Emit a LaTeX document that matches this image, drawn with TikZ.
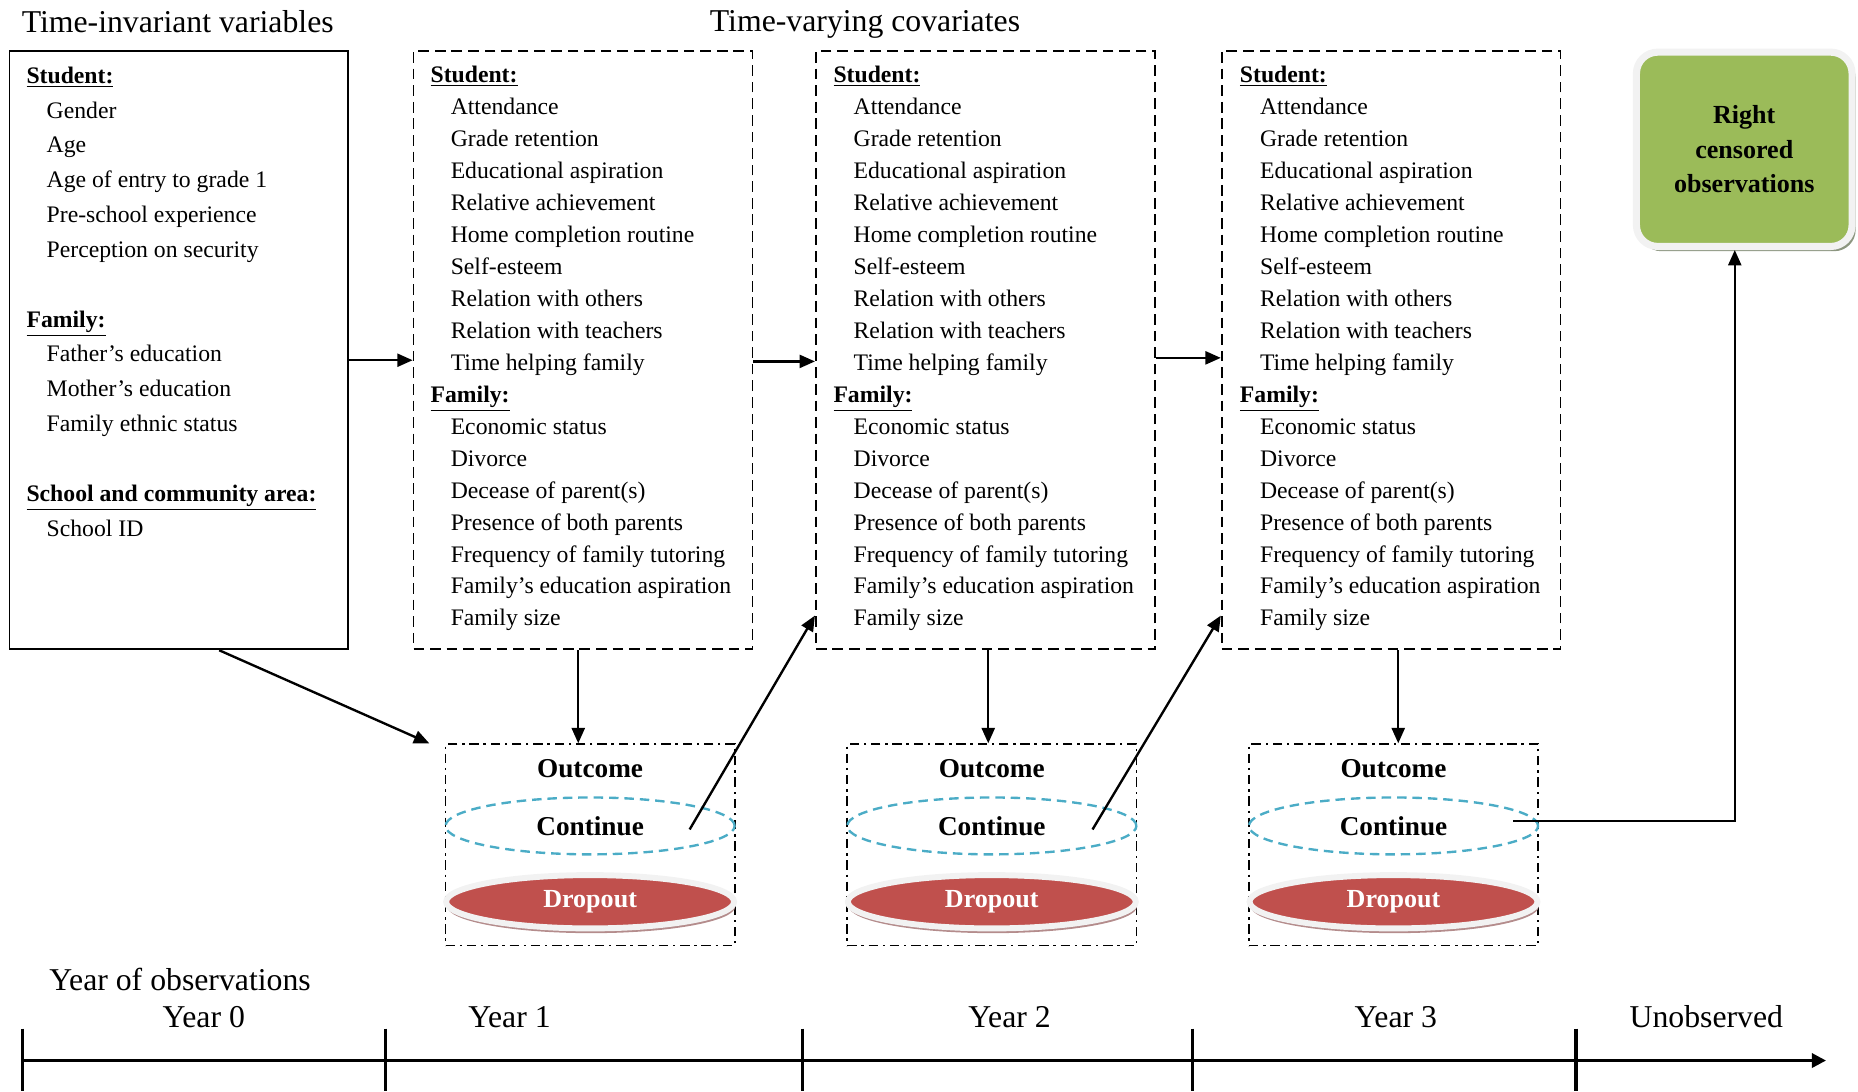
\documentclass[tikz,border=0pt]{standalone}
\usepackage{fontspec}
\setmainfont{Liberation Serif}
\usepackage{tikz}
\usetikzlibrary{arrows.meta,shapes.geometric,shadows,positioning}
\definecolor{contblue}{HTML}{4BACC6}
\definecolor{dropred}{HTML}{C0504D}
\definecolor{ringgray}{HTML}{F2F2F2}
\definecolor{dropshade}{HTML}{B48C8C}
\definecolor{censgreen}{HTML}{9BBB59}
\definecolor{censshade}{HTML}{8C9680}
\newcommand{\vhead}[1]{\underline{\textbf{#1}}}
\newcommand{\vitem}[1]{\hspace*{8.5pt}#1}
\newcommand{\covlist}{%
    \vhead{Student:}\\
    \vitem{Attendance}\\
    \vitem{Grade retention}\\
    \vitem{Educational aspiration}\\
    \vitem{Relative achievement}\\
    \vitem{Home completion routine}\\
    \vitem{Self-esteem}\\
    \vitem{Relation with others}\\
    \vitem{Relation with teachers}\\
    \vitem{Time helping family}\\
    \vhead{Family:}\\
    \vitem{Economic status}\\
    \vitem{Divorce}\\
    \vitem{Decease of parent(s)}\\
    \vitem{Presence of both parents}\\
    \vitem{Frequency of family tutoring}\\
    \vitem{Family’s education aspiration}\\
    \vitem{Family size}}
\newcommand{\outcomegroup}[2]{
    \node[outbox] (out#1) at (#2,713) {};
    \node[outlabel] (outlbl#1) at (#2,649) {Outcome};
    \node[contell] (cont#1) at (#2,697) {Continue};
    \node[dropell] (drop#1) at (#2,761) {Dropout};
}
\tikzset{
    invbox/.style={draw, line width=0.75pt, minimum width=143pt, minimum height=252.5pt, inner sep=0pt},
    covbox/.style={invbox, dash pattern=on 4.5pt off 2.5pt},
    vtext/.style={anchor=north west, inner sep=0pt, align=left, font=\fontsize{10}{13.5}\selectfont},
    headtext/.style={font=\fontsize{13.4}{16}\selectfont, inner sep=0pt},
    outbox/.style={draw, line width=0.7pt, dash pattern=on 4pt off 2pt on 1pt off 2pt, minimum width=122pt, minimum height=85pt},
    outlabel/.style={font=\bfseries\fontsize{11.5}{13}\selectfont, inner sep=0pt},
    contell/.style={ellipse, draw=contblue, line width=1pt, dash pattern=on 4pt off 2.5pt, minimum width=122pt, minimum height=24pt, inner sep=0pt, font=\bfseries\fontsize{11.5}{13}\selectfont},
    dropell/.style={ellipse, draw=ringgray, line width=2.5pt, fill=dropred, minimum width=121.5pt, minimum height=22.5pt, inner sep=0pt, text=white, font=\bfseries\fontsize{11}{13}\selectfont, drop shadow={shadow xshift=0.5pt, shadow yshift=-2pt, fill=dropshade, opacity=1}},
    censbox/.style={rectangle, rounded corners=9pt, draw=ringgray, line width=3pt, fill=censgreen, minimum width=91pt, minimum height=82pt, align=center, font=\bfseries\fontsize{11}{14.5}\selectfont, drop shadow={shadow xshift=1.5pt, shadow yshift=-2pt, fill=censshade, opacity=1}},
    conn/.style={line width=1pt, -{Triangle[length=6.5pt,width=5.5pt]}},
    timeline/.style={line width=1.3pt}
}

\begin{document}
\begin{tikzpicture}[x=0.5pt, y=-0.5pt]
    \useasboundingbox (0,0) rectangle (1568,921);
    \node[headtext] (invtitle) at (150,18) {Time-invariant variables};
    \node[headtext, anchor=base] (covtitle) at (730,27) {Time-varying covariates};

    \node[invbox] (inv) at (151,295.5) {};
    \node[vtext, font=\fontsize{10}{14.7}\selectfont] (invtext) at (22,56) {%
        \vhead{Student:}\\
        \vitem{Gender}\\
        \vitem{Age}\\
        \vitem{Age of entry to grade 1}\\
        \vitem{Pre-school experience}\\
        \vitem{Perception on security}\\[14.7pt]
        \vhead{Family:}\\
        \vitem{Father’s education}\\
        \vitem{Mother’s education}\\
        \vitem{Family ethnic status}\\[14.7pt]
        \vhead{School and community area:}\\
        \vitem{School ID}};

    \node[covbox] (box1) at (492,295.5) {};
    \node[vtext] (text1) at (363,55) {\covlist};
    \node[covbox] (box2) at (831.5,295.5) {};
    \node[vtext] (text2) at (703,55) {\covlist};
    \node[covbox] (box3) at (1174,295.5) {};
    \node[vtext] (text3) at (1046,55) {\covlist};

    \node[censbox] (cens) at (1472,126) {Right\\censored\\observations};

    \outcomegroup{1}{498}
    \outcomegroup{2}{837}
    \outcomegroup{3}{1176}

    \draw[conn] ([yshift=-4.25pt]inv.east) -- ([yshift=-4.25pt]box1.west);
    \draw[conn] ([yshift=-4.75pt]box1.east) -- ([yshift=-4.75pt]box2.west);
    \draw[conn] ([yshift=-3.25pt]box2.east) -- ([yshift=-3.25pt]box3.west);
    \draw[conn] ([xshift=17pt]inv.south) -- ([xshift=-6.5pt]out1.north west);
    \draw[conn] ([xshift=-2pt]box1.south) -- ([xshift=-2pt]box1.south |- out1.north);
    \draw[conn] ([xshift=1.25pt]box2.south) -- ([xshift=1.25pt]box2.south |- out2.north);
    \draw[conn] ([xshift=3pt]box3.south) -- ([xshift=3pt]box3.south |- out3.north);
    \draw[conn] (cont1.center) ++(84,3) -- ([yshift=-112pt]box2.west);
    \draw[conn] (cont2.center) ++(85,3) -- ([yshift=-112pt]box3.west);
    \draw[conn] (cont3.east) ++(-22,-4) -| ([xshift=-4pt]cens.south);

    \node[headtext] (yrobs) at (152,827) {Year of observations};
    \node[headtext] (yr0) at (172,858) {Year 0};
    \node[headtext] (yr1) at (430,858) {Year 1};
    \node[headtext] (yr2) at (852,858) {Year 2};
    \node[headtext] (yr3) at (1178,858) {Year 3};
    \node[headtext] (yrun) at (1440,858) {Unobserved};
    \coordinate (tstart) at (19,895);
    \coordinate (tend) at (1541,895);
    \draw[timeline, -{Triangle[length=6pt,width=6pt]}] (tstart) -- (tend);
    \foreach \tx in {19,325,677,1006,1330}
        \draw[timeline] (\tx,868) -- (\tx,921);
\end{tikzpicture}
\end{document}
